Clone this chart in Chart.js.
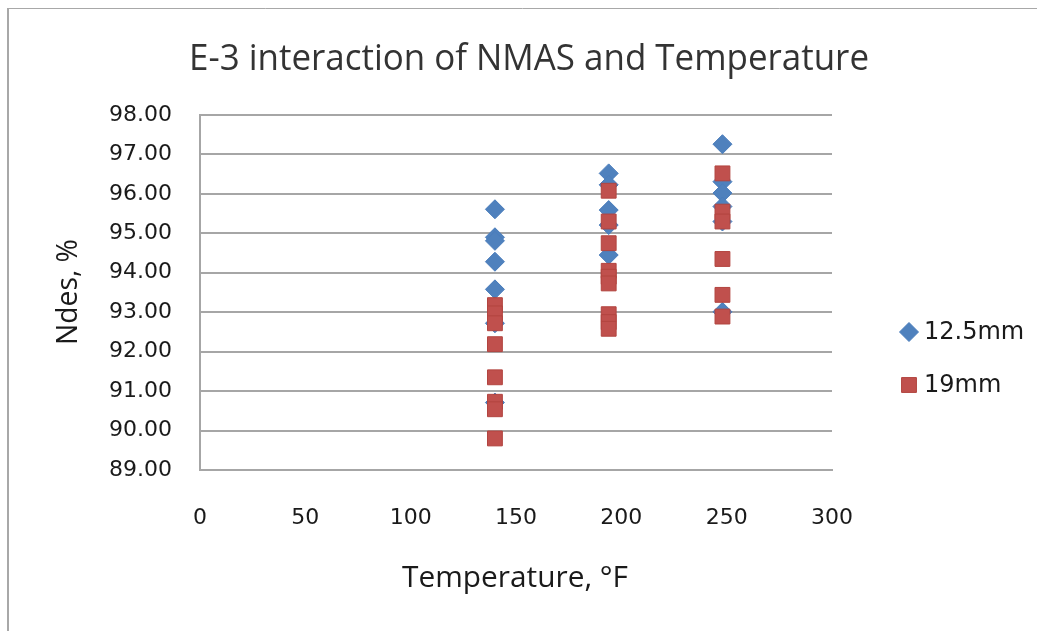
<!DOCTYPE html>
<html>
<head>
<meta charset="utf-8">
<script src="https://cdn.jsdelivr.net/npm/chart.js@4.4.1/dist/chart.umd.min.js"></script>
<style>
  html, body { margin: 0; padding: 0; background: #ffffff; }
  canvas { display: block; }
</style>
</head>
<body>
<canvas id="c" width="1037" height="631"></canvas>
<script>
// Labels
const chartTitle = 'E-3 interaction of NMAS and Temperature';
const xAxisTitle = 'Temperature, °F';
const yAxisTitle = 'Ndes, %';
const seriesNames = ['12.5mm', '19mm'];

// 12.5 mm NMAS: temperature (°F) and Ndes (%)
const temp125 = [140, 140, 140, 140, 140, 140, 140,
                 194, 194, 194, 194, 194,
                 248, 248, 248, 248, 248, 248];
const ndes125 = [95.61, 94.90, 94.81, 94.28, 93.58, 92.72, 90.71,
                 96.52, 96.23, 95.59, 95.21, 94.45,
                 97.26, 96.31, 96.02, 95.68, 95.30, 93.01];

// 19 mm NMAS: temperature (°F) and Ndes (%)
const temp19 = [140, 140, 140, 140, 140, 140, 140, 140,
                194, 194, 194, 194, 194, 194, 194, 194, 194,
                248, 248, 248, 248, 248, 248];
const ndes19 = [93.18, 92.97, 92.72, 92.19, 91.35, 90.73, 90.54, 89.80,
                96.08, 95.30, 94.75, 94.05, 93.90, 93.73, 92.95, 92.75, 92.58,
                96.52, 95.55, 95.30, 94.35, 93.44, 92.89];

// Axis tick values
const xTicks = [0, 50, 100, 150, 200, 250, 300];
const yTicks = [89, 90, 91, 92, 93, 94, 95, 96, 97, 98];

const BLUE = '#4f81bd';
const RED = '#c0504d';
const GRID = '#a6a6a6';
const TEXT = '#1a1a1a';

function pairs(xs, ys) {
  return xs.map((x, i) => ({ x: x, y: ys[i] }));
}

// Draws text compressed horizontally to a given width (narrow-face look)
function fitText(ctx, text, cx, cy, font, width) {
  ctx.save();
  ctx.font = font;
  const w = ctx.measureText(text).width;
  const s = width / w;
  ctx.translate(cx, cy);
  ctx.scale(s, 1);
  ctx.textAlign = 'center';
  ctx.textBaseline = 'middle';
  ctx.fillText(text, 0, 0);
  ctx.restore();
}

const decorations = {
  id: 'decorations',
  beforeDraw(chart) {
    const ctx = chart.ctx;
    ctx.save();
    ctx.fillStyle = '#ffffff';
    ctx.fillRect(0, 0, chart.width, chart.height);
    // outer frame
    ctx.strokeStyle = '#a8a8a8';
    ctx.lineWidth = 2;
    ctx.beginPath();
    ctx.moveTo(8, chart.height);
    ctx.lineTo(8, 8);
    ctx.stroke();
    ctx.lineWidth = 1;
    ctx.beginPath();
    ctx.moveTo(8, 8.5);
    ctx.lineTo(chart.width, 8.5);
    ctx.stroke();
    ctx.restore();
  },
  afterDraw(chart) {
    const ctx = chart.ctx;
    ctx.save();
    ctx.fillStyle = '#333333';
    fitText(ctx, chartTitle, 529, 60, '36px "Open Sans"', 680);
    ctx.fillStyle = TEXT;
    fitText(ctx, xAxisTitle, 515, 578, '30px "Open Sans"', 226);
    ctx.save();
    ctx.translate(68, 292);
    ctx.rotate(-Math.PI / 2);
    fitText(ctx, yAxisTitle, 0, 0, '30px "Open Sans"', 106);
    ctx.restore();

    // legend
    const items = [
      { ds: chart.data.datasets[0], y: 332 },
      { ds: chart.data.datasets[1], y: 385 }
    ];
    items.forEach((it) => {
      const ds = it.ds;
      ctx.fillStyle = ds.backgroundColor;
      ctx.strokeStyle = ds.borderColor;
      ctx.lineWidth = ds.borderWidth;
      ctx.beginPath();
      if (ds.pointStyle === 'rectRot') {
        const r = ds.pointRadius;
        ctx.moveTo(909, it.y - r);
        ctx.lineTo(909 + r, it.y);
        ctx.lineTo(909, it.y + r);
        ctx.lineTo(909 - r, it.y);
        ctx.closePath();
      } else {
        const h = ds.pointRadius * Math.SQRT1_2;
        ctx.rect(909 - h, it.y - h, 2 * h, 2 * h);
      }
      ctx.fill();
      ctx.stroke();
      ctx.fillStyle = TEXT;
      ctx.font = '24px "DejaVu Sans"';
      ctx.textAlign = 'left';
      ctx.textBaseline = 'middle';
      ctx.fillText(ds.label, 924, it.y + 1);
    });
    ctx.restore();
  }
};

new Chart(document.getElementById('c'), {
  type: 'scatter',
  data: {
    datasets: [
      {
        label: seriesNames[0],
        data: pairs(temp125, ndes125),
        pointStyle: 'rectRot',
        pointRadius: 9.5,
        pointHoverRadius: 9.5,
        backgroundColor: BLUE,
        borderColor: '#4a7dbc',
        borderWidth: 1,
        order: 2
      },
      {
        label: seriesNames[1],
        data: pairs(temp19, ndes19),
        pointStyle: 'rect',
        pointRadius: 10.5,
        pointHoverRadius: 10.5,
        backgroundColor: RED,
        borderColor: '#b2443f',
        borderWidth: 1,
        order: 1
      }
    ]
  },
  options: {
    responsive: false,
    animation: false,
    events: [],
    layout: { padding: { left: 0, top: 115, right: 205, bottom: 0 } },
    plugins: {
      legend: { display: false },
      title: { display: false },
      tooltip: { enabled: false }
    },
    scales: {
      x: {
        type: 'linear',
        min: xTicks[0],
        max: xTicks[xTicks.length - 1],
        afterBuildTicks: (axis) => { axis.ticks = xTicks.map(v => ({ value: v })); },
        afterFit: (axis) => { axis.height = 161; },
        ticks: {
          padding: 35,
          color: TEXT,
          font: { family: 'DejaVu Sans', size: 22 },
          maxRotation: 0,
          callback: (v) => String(v)
        },
        grid: { display: false, drawTicks: false },
        border: { display: true, color: GRID, width: 2 }
      },
      y: {
        type: 'linear',
        min: yTicks[0],
        max: yTicks[yTicks.length - 1],
        afterBuildTicks: (axis) => { axis.ticks = yTicks.map(v => ({ value: v })); },
        afterFit: (axis) => { axis.width = 200; },
        ticks: {
          padding: 28,
          color: TEXT,
          font: { family: 'DejaVu Sans', size: 22 },
          callback: (v) => Number(v).toFixed(2)
        },
        grid: { color: GRID, lineWidth: 2, drawTicks: false },
        border: { display: true, color: GRID, width: 2 }
      }
    }
  },
  plugins: [decorations]
});
</script>
</body>
</html>
